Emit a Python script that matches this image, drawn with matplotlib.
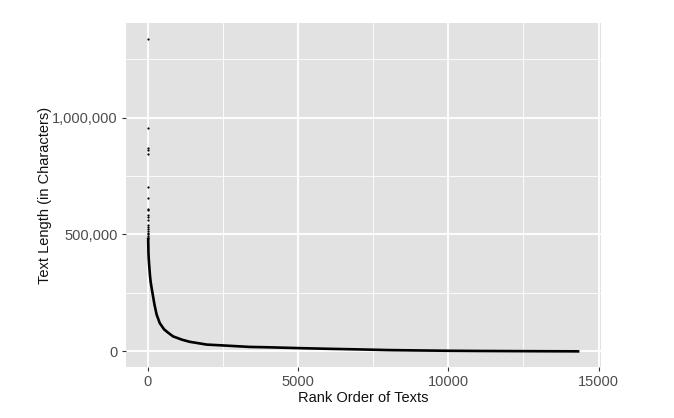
import matplotlib
matplotlib.use("Agg")
import matplotlib.pyplot as plt
from matplotlib.ticker import FuncFormatter, MultipleLocator

# longest texts (rank, length)
top_rank = [1, 2, 3, 4, 5, 6, 7, 8, 9, 10, 11, 12, 13, 14, 15, 16, 17, 18, 19, 20]
top_len = [1337600, 956000, 870000, 860000, 846000, 701000, 654000, 609000,
           604000, 585000, 575000, 564000, 540000, 532000, 524000, 515000,
           507000, 500000, 493000, 487000]

# the rest of the rank curve, values read at points along it
curve_rank = [20, 25, 30, 40, 50, 65, 80, 100, 120, 155, 230, 300, 405,
              550, 703, 850, 1145, 1400, 1970, 2490, 3400, 4000,
              5000, 6000, 7000, 8030, 9000, 10020, 11000, 12000, 13000,
              14000, 14360]
curve_len = [487000, 455000, 420000, 395000, 375000, 350000, 325000, 300000,
             283000, 256000, 200000, 158000, 121000, 94000, 78000, 64000,
             50000, 41000, 29000, 25500, 19000, 17500, 14000, 11000, 8500,
             5500, 4000, 2600, 1800, 1200, 700, 300, 50]

x_ticks = [0, 5000, 10000, 15000]
y_ticks = [0, 500000, 1000000]

plt.rcParams['font.family'] = ['Liberation Sans', 'DejaVu Sans']

fig = plt.figure(figsize=(6.74, 4.18), dpi=100)
fig.patch.set_facecolor('white')

# faint off-white plot background like the original export
bg = fig.add_axes([31 / 674, 1 - 401 / 418, (626 - 31) / 674, (401 - 16) / 418])
bg.set_facecolor('#fcfcfc')
bg.set_zorder(-1)
bg.axis('off')
bg.patch.set_visible(True)

ax = fig.add_axes([126 / 674, 1 - 367 / 418, (601 - 126) / 674, (367 - 23) / 418])
ax.set_facecolor('#e2e2e2')
for s in ax.spines.values():
    s.set_visible(False)

ax.plot(curve_rank, curve_len, color='black', lw=1.9, solid_capstyle='butt',
        solid_joinstyle='round', zorder=3)
ax.plot(top_rank, top_len, 'o', color='black', ms=1.6, mew=0, zorder=3)

xr = 14360 - 1
yr = 1337600 - 50
ax.set_xlim(1 - 0.05 * xr, 14360 + 0.05 * xr)
ax.set_ylim(50 - 0.05 * yr, 1337600 + 0.05 * yr)

ax.set_xticks(x_ticks)
ax.set_yticks(y_ticks)
ax.xaxis.set_minor_locator(MultipleLocator(2500))
ax.yaxis.set_minor_locator(MultipleLocator(250000))
ax.yaxis.set_major_formatter(FuncFormatter(lambda v, p: f"{int(v):,}"))

ax.grid(which='major', color='white', lw=1.3)
ax.grid(which='minor', color='white', lw=0.6)
ax.set_axisbelow(True)
ax.tick_params(which='major', length=3, width=0.8, color='#333333',
               labelcolor='#4d4d4d', labelsize=10.5, pad=3)
ax.tick_params(which='minor', length=0)

ax.set_xlabel('Rank Order of Texts', fontsize=10.5, color='#111111', labelpad=1)
ax.set_ylabel('Text Length (in Characters)', fontsize=10.5, color='#111111')
ax.yaxis.set_label_coords(-0.156, 0.5)

fig.savefig('out.png', dpi=100)
